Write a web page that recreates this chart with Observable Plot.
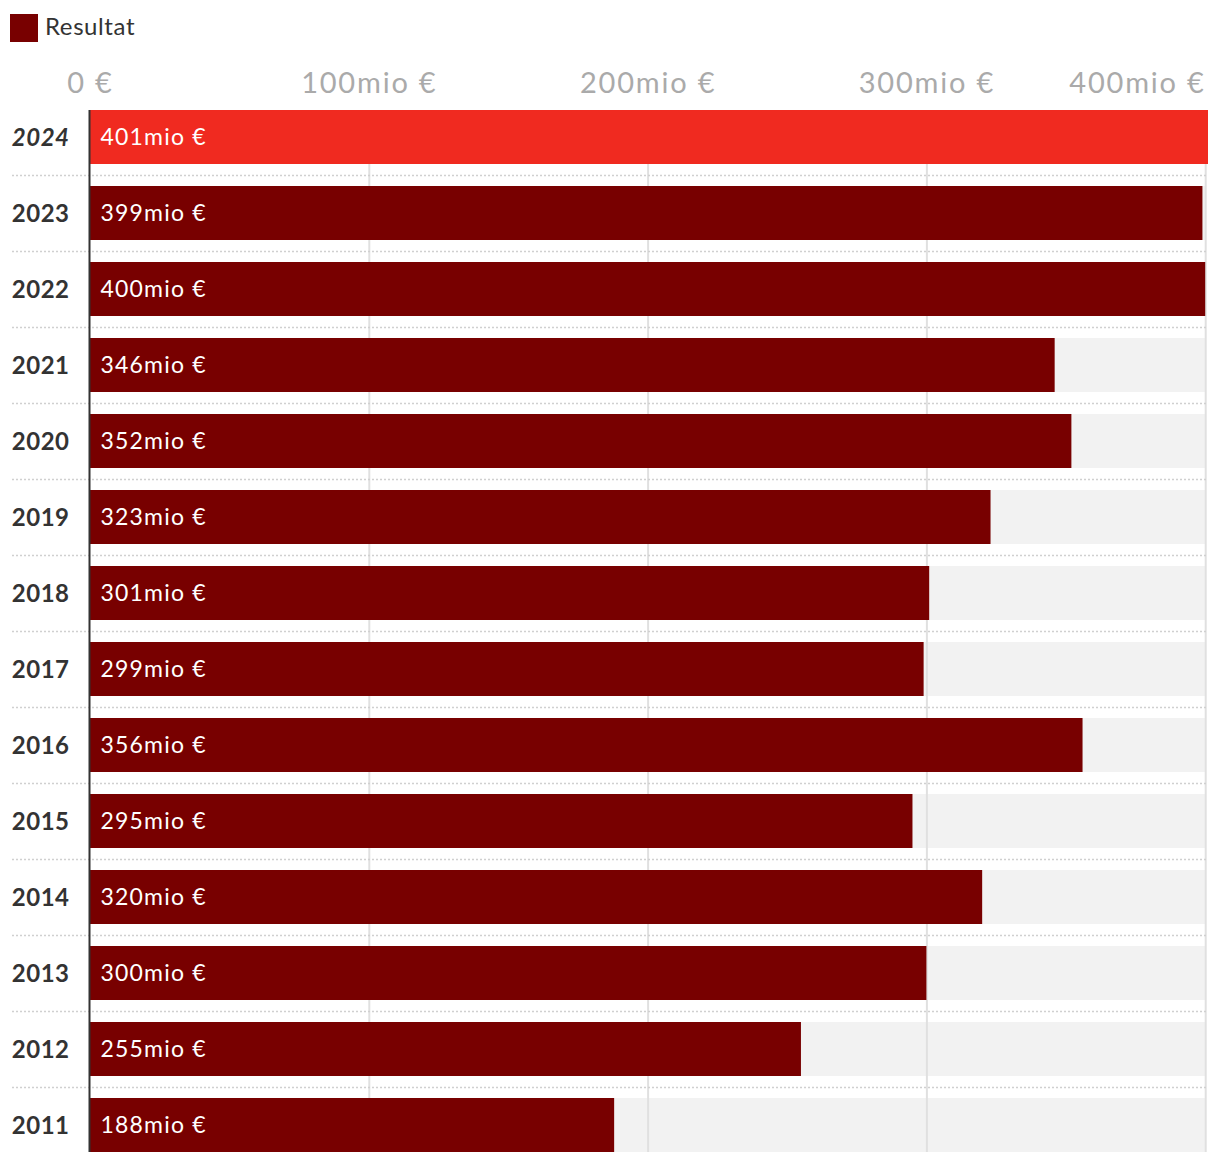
<!DOCTYPE html>
<html>
<head>
<meta charset="utf-8">
<script src="https://cdn.jsdelivr.net/npm/d3@7"></script>
<script src="https://cdn.jsdelivr.net/npm/@observablehq/plot@0.6"></script>
<style>
  body { margin: 0; background: #fff; font-family: Lato, "Open Sans", sans-serif; }
  #legend { height: 56px; position: relative; }
  #legend .sw { position: absolute; left: 10px; top: 14px; width: 28px; height: 28px; background: #780000; }
  #legend .lb { position: absolute; left: 45px; top: 12px; font-size: 24px; color: #333; line-height: 28px; letter-spacing: 0.6px; }
  #chart svg { display: block; }
  #chart g[font-size="23"] { letter-spacing: 1.2px; }
  #chart g[font-size="24"] { letter-spacing: 0.5px; }
  #chart g[font-size="29"] { letter-spacing: 1.8px; }
</style>
</head>
<body>
<div id="legend"><div class="sw"></div><div class="lb">Resultat</div></div>
<div id="chart"></div>
<script>
const years = ["2024","2023","2022","2021","2020","2019","2018","2017","2016","2015","2014","2013","2012","2011"];
const values = [401,399,400,346,352,323,301,299,356,295,320,300,255,188];
const highlightYear = "2024";
const xTicks = [0,100,200,300,400];
const tickLabels = ["0 €","100mio €","200mio €","300mio €","400mio €"];
const seriesName = "Resultat";

const data = years.map((y, i) => ({year: y, value: values[i]}));
const ticks = xTicks.map((v, i) => ({v, label: tickLabels[i]}));
const maxTick = d3.max(xTicks);

const dark = "#780000", red = "#f02a20";

const chart = Plot.plot({
  width: 1220,
  height: 1108,
  marginLeft: 90,
  marginRight: 12,
  marginTop: 54,
  marginBottom: 12,
  style: {fontFamily: "Lato, 'Open Sans', sans-serif", background: "#fff"},
  x: {domain: [0, d3.max(values)], axis: null},
  y: {domain: years, axis: null, paddingInner: 22/76, paddingOuter: 0},
  color: {type: "identity"},
  marks: [
    Plot.barX(years, {x1: 0, x2: maxTick, y: d => d, fill: "#f2f2f2"}),
    Plot.ruleX(xTicks.slice(1), {stroke: "#e0e0e0", strokeWidth: 2}),
    Plot.ruleY(years.slice(1), {y: d => d, dy: -38, stroke: "#d0d0d0", strokeWidth: 1.5, strokeDasharray: "2,2", insetLeft: -78, insetRight: 1}),
    Plot.barX(data, {x1: 0, x2: "value", y: "year", fill: d => d.year === highlightYear ? red : dark}),
    Plot.ruleX([0], {stroke: "#333", strokeWidth: 2, dx: -1}),
    Plot.text(data, {x: 0, y: "year", text: d => `${d.value}mio €`, textAnchor: "start", dx: 10, fill: "white", fontSize: 23}),
    Plot.text(data.filter(d => d.year !== highlightYear), {x: 0, y: "year", text: "year", textAnchor: "end", dx: -21, dy: 1, fill: "#333", fontSize: 24, fontWeight: "bold"}),
    Plot.text(data.filter(d => d.year === highlightYear), {x: 0, y: "year", text: "year", textAnchor: "end", dx: -21, dy: 1, fill: "#333", fontSize: 24, fontWeight: "bold", fontStyle: "italic"}),
    Plot.text(ticks.slice(0, -1), {x: "v", text: "label", frameAnchor: "top", lineAnchor: "middle", dy: -27, textAnchor: "middle", fill: "#aaa", fontSize: 29, fontWeight: 400}),
    Plot.text(ticks.slice(-1), {x: "v", text: "label", frameAnchor: "top", lineAnchor: "middle", dy: -27, textAnchor: "end", fill: "#aaa", fontSize: 29, fontWeight: 400})
  ]
});
document.getElementById("chart").appendChild(chart);
</script>
</body>
</html>
